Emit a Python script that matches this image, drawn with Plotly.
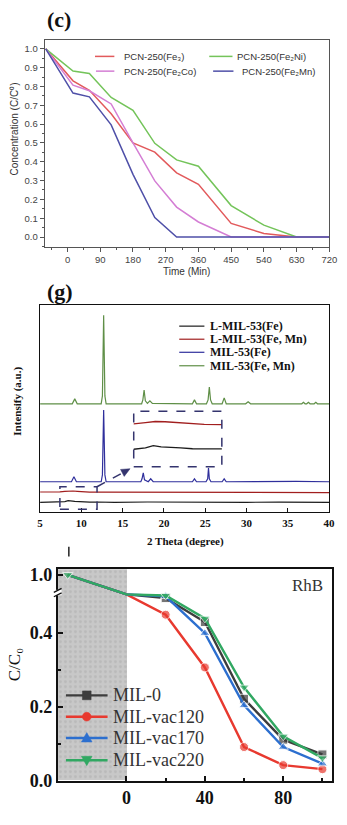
import plotly.graph_objects as go

W, H = 347, 825
SERIF = "Liberation Serif"
SANS = "Liberation Sans"

# ---------------- (c) PCN-250 photocatalytic degradation ----------------
time_min = [-60, 15, 60, 120, 180, 240, 300, 360, 450, 540, 630, 720]
pcn_labels = ["PCN-250(Fe₃)", "PCN-250(Fe₂Ni)", "PCN-250(Fe₂Co)", "PCN-250(Fe₂Mn)"]
conc_fe3 = [1.0, 0.83, 0.78, 0.655, 0.50, 0.451, 0.341, 0.28, 0.072, 0.019, 0.0, 0.0]
conc_fe2ni = [1.0, 0.882, 0.869, 0.742, 0.673, 0.498, 0.41, 0.376, 0.167, 0.063, 0.0, 0.0]
conc_fe2co = [1.0, 0.807, 0.777, 0.707, 0.50, 0.298, 0.159, 0.08, 0.0, 0.0, 0.0, 0.0]
conc_fe2mn = [1.0, 0.765, 0.745, 0.596, 0.333, 0.103, 0.0, 0.0, 0.0, 0.0, 0.0, 0.0]
pcn_ticks = [0, 90, 180, 270, 360, 450, 540, 630, 720]

# ---------------- (g) XRD patterns ----------------
xrd_labels = ["L-MIL-53(Fe)", "L-MIL-53(Fe, Mn)", "MIL-53(Fe)", "MIL-53(Fe, Mn)"]
tt_mil_femn = [5, 8.9, 9.2, 9.5, 12.4, 12.55, 12.7, 12.85, 13.0, 17.3, 17.45, 17.6, 17.75,
               18.0, 18.3, 18.6, 23.45, 23.7, 23.95, 25.15, 25.35, 25.5, 25.65, 25.85,
               27.05, 27.3, 27.55, 29.9, 30.2, 30.5, 36.7, 36.9, 37.1, 37.3, 37.5, 37.7,
               38.2, 38.4, 38.6, 40]
i_mil_femn = [0, 0, 5, 0, 0, 8, 90, 8, 0, 0, 4, 14, 3, 0.5, 3, 0.5, 0, 4, 0, 0, 4, 17, 4, 0,
              0, 6, 0, 0, 2, 0, 0, 1.5, 0, 0, 1.5, 0, 0, 1.5, 0, 0]
tt_mil_fe = [5, 8.8, 9.1, 9.4, 12.4, 12.55, 12.7, 12.85, 13.0, 17.2, 17.35, 17.5, 17.65,
             18.1, 18.4, 18.7, 23.45, 23.7, 23.95, 25.1, 25.3, 25.4, 25.5, 25.7,
             27.05, 27.3, 27.55, 33, 36, 40]
i_mil_fe = [0, 0, 5, 0, 0, 7, 73, 7, 0, 0, 3, 9, 2, 0, 3, 0, 0, 3, 0, 0, 3, 14, 3, 0,
            0, 3, 0, 0.5, 0.3, 0]
tt_lmil_femn = [5, 6.5, 7.4, 8.0, 8.5, 9.0, 9.5, 10.0, 10.5, 11.0, 11.9, 14, 18, 22, 26, 30, 34, 37, 40]
i_lmil_femn = [0.3, 0.2, 0.4, 0.9, 1.4, 1.3, 1.0, 0.6, 0.4, 0.2, 0.1, 0.1, 0.3, 0.1, 0.2, 0.0, 0.1, -0.2, -0.3]
tt_lmil_fe = [5, 6.5, 7.4, 8.0, 8.4, 8.8, 9.2, 9.8, 10.4, 11.0, 11.9, 14, 18, 22, 26, 30, 34, 37, 40]
i_lmil_fe = [0.0, 0.1, 0.2, 0.8, 1.7, 1.2, 1.1, 0.8, 0.4, 0.3, 0.4, 0.1, 0.4, 0.1, 0.3, 0.1, 0.2, 0.0, 0.1]
xrd_ticks = [5, 10, 15, 20, 25, 30, 35, 40]

# ---------------- RhB degradation over MIL samples ----------------
rhb_time = [-30, 0, 20, 40, 60, 80, 100]
dark_period = [-35, 0]
rhb_labels = ["MIL-0", "MIL-vac120", "MIL-vac170", "MIL-vac220"]
c_mil0 = [1.0, 0.505, 0.495, 0.43, 0.222, 0.111, 0.071]
c_vac120 = [1.0, 0.505, 0.45, 0.307, 0.091, 0.042, 0.031]
c_vac170 = [1.0, 0.505, 0.50, 0.40, 0.204, 0.091, 0.046]
c_vac220 = [1.0, 0.505, 0.502, 0.44, 0.253, 0.12, 0.061]
rhb_xticks = [0, 40, 80]
rhb_yticks = [0.0, 0.2, 0.4, 1.0]

# ---------------------------------------------------------------------------
def px_x(p):
    return p / W


def px_y(p):
    return 1 - p / H


shapes = []
annotations = []


def add_text(x, y, s, size, family, color="#222", xanchor="left", bold=False, angle=0):
    annotations.append(dict(
        x=px_x(x), y=px_y(y), xref="paper", yref="paper", text=s, showarrow=False,
        xanchor=xanchor, yanchor="middle", textangle=angle,
        font=dict(size=size, family=family, color=color, weight="bold" if bold else "normal")))


def add_line(x0, y0, x1, y1, color, width, dash="solid"):
    shapes.append(dict(type="line", xref="paper", yref="paper",
                       x0=px_x(x0), y0=px_y(y0), x1=px_x(x1), y1=px_y(y1),
                       line=dict(color=color, width=width, dash=dash)))


def add_poly(points, color):
    path = "M " + " L ".join(f"{px_x(a):.5f},{px_y(b):.5f}" for a, b in points) + " Z"
    shapes.append(dict(type="path", xref="paper", yref="paper", path=path,
                       fillcolor=color, line=dict(color=color, width=0.5)))


fig = go.Figure()

# ---- panel (c) ----
pcn_series = [conc_fe3, conc_fe2ni, conc_fe2co, conc_fe2mn]
pcn_colors = ["#e25a5c", "#74c45a", "#d47ed4", "#4f50a8"]
for name, vals, col in zip(pcn_labels, pcn_series, pcn_colors):
    fig.add_trace(go.Scatter(x=time_min, y=vals, mode="lines", name=name,
                             line=dict(color=col, width=1.5), xaxis="x", yaxis="y",
                             showlegend=False))

# legend of (c): two columns
pcn_leg = [(95, 115, 123, 53.3), (213, 237, 240, 53.3), (96, 115, 123, 68.3), (217, 238, 245, 68.3)]
for (x0, x1, tx, y), name, col in zip(pcn_leg, pcn_labels, pcn_colors):
    add_line(x0, y, x1, y, col, 1.5)
    add_text(tx, y, name, 9.5, SANS, "#333")

add_text(43, 16, "(c)", 22, SERIF, "#111", bold=True)
add_text(190, 272, "Time (Min)", 10, SANS, "#333", xanchor="center")
add_text(12, 127, "Concentration (C/C⁰)", 10, SANS, "#333", xanchor="center", angle=-90)

# ---- panel (g) ----
off_femn, off_fe, off_lfemn, off_lfe = 110.3, 31.0, 20.3, 10.0
xrd_data = [
    (tt_lmil_fe, i_lmil_fe, off_lfe, "#1c1c1c"),
    (tt_lmil_femn, i_lmil_femn, off_lfemn, "#a11e1e"),
    (tt_mil_fe, i_mil_fe, off_fe, "#2f2f9c"),
    (tt_mil_femn, i_mil_femn, off_femn, "#5f8f47"),
]
for (tt, inten, off, col), name in zip(xrd_data, xrd_labels):
    fig.add_trace(go.Scatter(x=tt, y=[v + off for v in inten], mode="lines", name=name,
                             line=dict(color=col, width=1.2), xaxis="x2", yaxis="y2",
                             showlegend=False))
# magnified inset of the low-angle region of the L-MIL-53 patterns
for tt, inten, off, col in xrd_data[:2]:
    fig.add_trace(go.Scatter(x=tt, y=[v + off for v in inten], mode="lines",
                             line=dict(color=col, width=1.4), xaxis="x4", yaxis="y4",
                             showlegend=False, cliponaxis=True))

zoom_x = [7.4, 11.9]
zoom_y = [3.0, 25.9]
navy = "#34346e"
shapes.append(dict(type="rect", xref="x2", yref="y2", x0=zoom_x[0], x1=zoom_x[1],
                   y0=zoom_y[0], y1=zoom_y[1], line=dict(color=navy, width=1.5, dash="dash")))
shapes.append(dict(type="rect", xref="x4 domain", yref="y4 domain", x0=0, x1=1, y0=0, y1=1,
                   line=dict(color=navy, width=1.5, dash="dash")))

# arrow from the small box to the inset (pixel geometry of panel g)
g_left, g_right, g_top, g_bot = 38.3, 336.7, 306.7, 517.0
inset_l, inset_r, inset_t, inset_b = 135.0, 226.0, 414.3, 470.7
ax0 = g_left + (zoom_x[1] - 5) / 35 * (g_right - g_left)
ay0 = g_bot - (zoom_y[1] - 0) / 210.3 * (g_bot - g_top)
ax1 = ax0 + 0.9 * (inset_l - ax0)
ay1 = ay0 + 0.9 * (inset_b - ay0)
dx, dy = ax1 - ax0, ay1 - ay0
ln = (dx * dx + dy * dy) ** 0.5
ux, uy = dx / ln, dy / ln
bx, by = ax1 - 9 * ux, ay1 - 9 * uy
add_line(ax0, ay0, bx, by, navy, 1.5, "dash")
add_poly([(ax1, ay1), (bx - 4 * uy, by + 4 * ux), (bx + 4 * uy, by - 4 * ux)], navy)

g_leg_y = [327.7, 341.0, 354.3, 368.0]
for y, (_, _, _, col), name in zip(g_leg_y, xrd_data, xrd_labels):
    add_line(182, y, 208, y, col, 1.2)
    add_text(212, y, name, 12, SERIF, "#111", bold=True)

add_text(43, 292, "(g)", 22, SERIF, "#111", bold=True)
add_text(188, 547, "2 Theta (degree)", 11, SERIF, "#111", xanchor="center", bold=True)
add_text(15, 404, "Intensify (a.u.)", 11, SERIF, "#111", xanchor="center", bold=True, angle=-90)

# ---- RhB panel with broken y axis ----
BREAK = 0.515
K_TOP = 0.0889
Y3_TOP = 0.5733


def disp(v):
    return v if v <= BREAK else BREAK + (v - BREAK) * K_TOP


# dark-adsorption period as a dotted grey band
fig.add_trace(go.Bar(x=[(dark_period[0] + dark_period[1]) / 2], y=[Y3_TOP],
                     width=[dark_period[1] - dark_period[0]], base=0,
                     marker=dict(color="#c6c6c6", line=dict(width=0),
                                 pattern=dict(shape=".", fgcolor="#a9a9a9", bgcolor="#c8c8c8",
                                              size=5, solidity=0.25)),
                     xaxis="x3", yaxis="y3", showlegend=False, hoverinfo="skip"))

rhb_series = [c_mil0, c_vac120, c_vac170, c_vac220]
rhb_colors = ["#3d3d3d", "#e8392f", "#2c6fcf", "#31a862"]
rhb_symbols = ["square", "circle", "triangle-up", "triangle-down"]
n_series = len(rhb_series)
for k, (name, vals, col, sym) in enumerate(zip(rhb_labels, rhb_series, rhb_colors, rhb_symbols)):
    # the shared starting point only carries the marker of the topmost series
    sizes = [0 if (t == 0 or (i == 0 and k < n_series - 1)) else 9
             for i, t in enumerate(rhb_time)]
    fig.add_trace(go.Scatter(x=rhb_time, y=[disp(v) for v in vals], mode="lines+markers",
                             name=name, line=dict(color=col, width=2.4),
                             marker=dict(symbol=sym, size=sizes, color=col),
                             xaxis="x3", yaxis="y3", showlegend=False, cliponaxis=False))

# legend of the RhB panel
r_leg_y = [703.3, 725.0, 746.7, 769.3]
for y, name, col, sym in zip(r_leg_y, rhb_labels, rhb_colors, rhb_symbols):
    add_line(65, y, 108, y, col, 2.4)
    cx = 86.5
    if sym == "square":
        add_poly([(cx - 4.5, y - 4.5), (cx + 4.5, y - 4.5), (cx + 4.5, y + 4.5), (cx - 4.5, y + 4.5)], col)
    elif sym == "circle":
        shapes.append(dict(type="circle", xref="paper", yref="paper",
                           x0=px_x(cx - 4.5), x1=px_x(cx + 4.5), y0=px_y(y + 4.5), y1=px_y(y - 4.5),
                           fillcolor=col, line=dict(color=col, width=0.5)))
    elif sym == "triangle-up":
        add_poly([(cx, y - 5.5), (cx + 5.5, y + 4), (cx - 5.5, y + 4)], col)
    else:
        add_poly([(cx, y + 5.5), (cx + 5.5, y - 4), (cx - 5.5, y - 4)], col)
    add_text(112, y, name, 18, SERIF, "#333")

add_text(333, 592, "RhB", 17, SERIF, "#333", xanchor="right")
add_text(12, 672, "C/C₀", 17, SERIF, "#111", xanchor="center", angle=-90)

# axis break marks
shapes.append(dict(type="rect", xref="paper", yref="paper", x0=px_x(53), x1=px_x(60.5),
                   y0=px_y(601.5), y1=px_y(596), fillcolor="white", line=dict(width=0)))
add_line(52.5, 598.5, 60.5, 594.5, "#111", 1.3)
add_line(52.5, 603.0, 60.5, 599.0, "#111", 1.3)
add_line(68, 552, 68, 562, "#222", 1.5)

# ---------------------------------------------------------------------------
fig.update_layout(
    width=W, height=H, autosize=False,
    margin=dict(l=0, r=0, t=0, b=0, pad=0),
    paper_bgcolor="white", plot_bgcolor="rgba(0,0,0,0)",
    showlegend=False, bargap=0,
    shapes=shapes, annotations=annotations,
    xaxis=dict(domain=[43 / W, 337 / W], anchor="y", range=[-63, 720], tickvals=pcn_ticks,
               ticks="outside", ticklen=4, tickcolor="#555", showline=True, mirror=True,
               linecolor="#555", linewidth=1, showgrid=False, zeroline=False,
               tickfont=dict(family=SANS, size=9.5, color="#444"),
               minor=dict(dtick=45, tick0=0, ticks="outside", ticklen=2, tickcolor="#555")),
    yaxis=dict(domain=[px_y(247), px_y(37)], anchor="x", range=[-0.052, 1.045], dtick=0.1,
               tick0=0, tickformat=".1f", ticks="outside", ticklen=4, tickcolor="#555",
               showline=True, mirror=True, linecolor="#555", linewidth=1, showgrid=False,
               zeroline=False, tickfont=dict(family=SANS, size=9.5, color="#444"),
               minor=dict(dtick=0.05, tick0=0, ticks="outside", ticklen=2, tickcolor="#555")),
    xaxis2=dict(domain=[38.3 / W, 336.7 / W], anchor="y2", range=[5, 40], tickvals=xrd_ticks,
                ticks="inside", ticklen=4, tickcolor="#111", showline=True, mirror=True,
                linecolor="#111", linewidth=1.2, showgrid=False, zeroline=False,
                tickfont=dict(family=SERIF, size=11, color="#111", weight="bold")),
    yaxis2=dict(domain=[px_y(517), px_y(306.7)], anchor="x2", range=[0, 210.3],
                showticklabels=False, ticks="", showline=True, mirror=True, linecolor="#111",
                linewidth=1.2, showgrid=False, zeroline=False),
    xaxis4=dict(domain=[inset_l / W, inset_r / W], anchor="y4", range=zoom_x, visible=False),
    yaxis4=dict(domain=[px_y(inset_b), px_y(inset_t)], anchor="x4", range=zoom_y, visible=False),
    xaxis3=dict(domain=[56.7 / W, 340 / W], anchor="y3", range=[-35, 105], tickvals=rhb_xticks,
                ticks="inside", ticklen=5, tickcolor="#111", tickwidth=1.5, showline=True,
                mirror=True, linecolor="#111", linewidth=2, showgrid=False, zeroline=False,
                tickfont=dict(family=SERIF, size=18, color="#111", weight="bold"),
                minor=dict(tickvals=[20, 60, 100], ticks="inside", ticklen=3, tickcolor="#111")),
    yaxis3=dict(domain=[px_y(790), px_y(575)], anchor="x3", range=[0, Y3_TOP],
                tickvals=[disp(v) for v in rhb_yticks],
                ticktext=[f"{v:.1f}" for v in rhb_yticks],
                ticks="inside", ticklen=5, tickcolor="#111", tickwidth=1.5, showline=True,
                mirror=True, linecolor="#111", linewidth=2, showgrid=False, zeroline=False,
                tickfont=dict(family=SERIF, size=18, color="#111", weight="bold"),
                minor=dict(tickvals=[0.1, 0.3], ticks="inside", ticklen=3, tickcolor="#111")),
)

fig.write_html("out.html")
